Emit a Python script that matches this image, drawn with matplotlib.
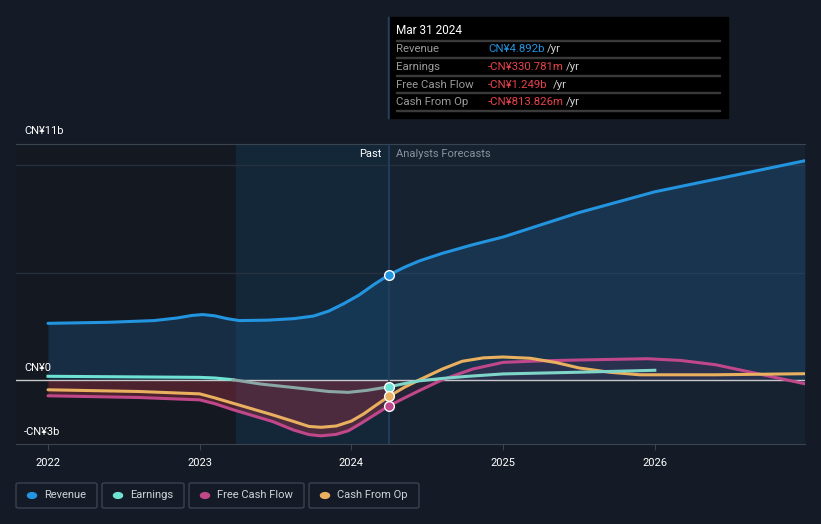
import matplotlib
matplotlib.use('Agg')
import matplotlib.pyplot as plt
from matplotlib.patches import Rectangle, FancyBboxPatch
import numpy as np

plt.rcParams['font.family'] = ['Roboto', 'DejaVu Sans']

# Values in CN¥ billions, x in decimal years
rev_x = [2022.0, 2022.4, 2022.7, 2022.85, 2022.95, 2023.02, 2023.1, 2023.18, 2023.26, 2023.45,
         2023.62, 2023.75, 2023.85, 2023.95, 2024.05, 2024.15, 2024.247, 2024.35, 2024.45,
         2024.6, 2024.8, 2025.0, 2025.5, 2026.0, 2026.5, 2026.99]
rev_y = [2.63, 2.68, 2.76, 2.88, 3.0, 3.04, 2.98, 2.85, 2.76, 2.78,
         2.85, 2.97, 3.2, 3.55, 3.95, 4.45, 4.89, 5.25, 5.55,
         5.9, 6.3, 6.66, 7.8, 8.77, 9.5, 10.22]

earn_x = [2022.0, 2023.0, 2023.1, 2023.22, 2023.4, 2023.65, 2023.85, 2023.98, 2024.1, 2024.247,
          2024.35, 2024.45, 2024.6, 2024.75, 2025.0, 2025.5, 2026.0]
earn_y = [0.16, 0.11, 0.08, 0.0, -0.2, -0.39, -0.55, -0.59, -0.5, -0.33,
          -0.18, -0.05, 0.06, 0.15, 0.27, 0.35, 0.44]

fcf_x = [2022.0, 2022.6, 2023.0, 2023.1, 2023.22, 2023.48, 2023.62, 2023.72, 2023.8, 2023.9,
         2023.98, 2024.06, 2024.15, 2024.247, 2024.35, 2024.45, 2024.6, 2024.8, 2025.0,
         2025.25, 2025.5, 2025.95, 2026.17, 2026.4, 2026.6, 2026.99]
fcf_y = [-0.75, -0.83, -0.94, -1.12, -1.4, -1.95, -2.35, -2.56, -2.62, -2.55,
         -2.38, -2.05, -1.65, -1.22, -0.85, -0.5, 0.0, 0.5, 0.81,
         0.88, 0.92, 0.98, 0.9, 0.7, 0.4, -0.19]

cfo_x = [2022.0, 2022.6, 2023.0, 2023.1, 2023.22, 2023.48, 2023.62, 2023.72, 2023.8, 2023.9,
         2024.0, 2024.08, 2024.16, 2024.247, 2024.35, 2024.45, 2024.6, 2024.73, 2024.87,
         2025.0, 2025.18, 2025.35, 2025.5, 2025.7, 2025.9, 2026.4, 2026.99]
cfo_y = [-0.47, -0.55, -0.66, -0.85, -1.1, -1.64, -1.95, -2.18, -2.22, -2.16,
         -1.93, -1.6, -1.2, -0.78, -0.35, 0.0, 0.5, 0.86, 1.02,
         1.06, 1.0, 0.8, 0.55, 0.35, 0.23, 0.23, 0.28]

now = 2024.247
band_start = 2023.24
years = [2022, 2023, 2024, 2025, 2026]

tip_title = 'Mar 31 2024'
tip_rows = [('Revenue', 'CN¥4.892b', '#2394df'),
            ('Earnings', '-CN¥330.781m', '#e8424b'),
            ('Free Cash Flow', '-CN¥1.249b', '#e8424b'),
            ('Cash From Op', '-CN¥813.826m', '#e8424b')]

legend_items = [('Revenue', '#2394df'), ('Earnings', '#6fe3d3'),
                ('Free Cash Flow', '#c0478a'), ('Cash From Op', '#e9b060')]

BG = '#151b26'
W, H = 821, 524

def fx(x):
    return x / W

def fy(y):
    return 1 - y / H

fig = plt.figure(figsize=(W / 100, H / 100), dpi=100, facecolor=BG)
ax = fig.add_axes([fx(16), fy(444), fx(805) - fx(16), fy(144) - fy(444)])
ax.set_facecolor('#172230')
ax.set_xlim(2021.789, 2026.99)
ax.set_ylim(-3, 11)

# background regions
ax.axvspan(2021.789, band_start, color='#131821', zorder=0)
ax.axvspan(band_start, now, color='#132739', zorder=0)

for g in [5, 10]:
    ax.axhline(g, color='#27313e', lw=1, zorder=1)

# revenue fill
ax.fill_between(rev_x, 0, rev_y, color='#1e5f94', alpha=0.3, lw=0, zorder=2)

# negative fill in the past
px = np.array(fcf_x)
mask = px <= now + 1e-9
ax.fill_between(px[mask], 0, np.array(fcf_y)[mask], color='#b8354a', alpha=0.35, lw=0, zorder=2)
# subtle fill in forecast
fmask = px >= now - 1e-9
ax.fill_between(px[fmask], 0, np.array(fcf_y)[fmask], color='#5a2a55', alpha=0.25, lw=0, zorder=2)

ax.axhline(0, color='#c8c8c8', lw=1, zorder=3)

ax.plot(rev_x, rev_y, color='#2394df', lw=2.2, zorder=5, solid_capstyle='round', solid_joinstyle='round')
ax.plot(fcf_x, fcf_y, color='#c0478a', lw=2.2, zorder=5, solid_capstyle='round', solid_joinstyle='round')
ax.plot(cfo_x, cfo_y, color='#e9b060', lw=2.2, zorder=5, solid_capstyle='round', solid_joinstyle='round')
ex = np.array(earn_x)
ey = np.array(earn_y)
ax.plot(ex[ex <= 2023.22], ey[ex <= 2023.22], color='#6fe3d3', lw=2.2, zorder=5)
ax.plot(ex[(ex >= 2023.22) & (ex <= now)], ey[(ex >= 2023.22) & (ex <= now)], color='#8aa7a6', lw=2.2, zorder=5)
ax.plot(ex[ex >= now], ey[ex >= now], color='#7fd6c8', lw=2.2, zorder=5)

# markers at now
for xs, ys, c in [(rev_x, rev_y, '#2394df'), (earn_x, earn_y, '#6fe3d3'),
                  (fcf_x, fcf_y, '#c0478a'), (cfo_x, cfo_y, '#e9b060')]:
    ax.plot([now], [ys[xs.index(now)]], 'o', ms=7, mfc=c, mec='white', mew=1, zorder=7)

ax.axvline(now, color='#24415e', lw=1.2, zorder=4)

for s in ['left', 'right']:
    ax.spines[s].set_visible(False)
ax.spines['top'].set_color('#3a4350')
ax.spines['bottom'].set_color('#3a4350')
ax.set_yticks([])
ax.set_xticks(years)
ax.set_xticklabels([str(y) for y in years], color='white', fontsize=8)
ax.tick_params(axis='x', colors='#3a4350', length=4, labelcolor='white', pad=6)

ax.text(now - 0.05, 10.55, 'Past', color='white', fontsize=8, ha='right', va='center', zorder=8)
ax.text(now + 0.05, 10.55, 'Analysts Forecasts', color='#8a929c', fontsize=8, ha='left', va='center', zorder=8)

# y labels
fig.text(fx(24), fy(131), 'CN¥11b', color='white', fontsize=8, va='center')
fig.text(fx(24), fy(368), 'CN¥0', color='white', fontsize=8, va='center')
fig.text(fx(24), fy(432), '-CN¥3b', color='white', fontsize=8, va='center')

# tooltip
line_x = fx(388.8)
fig.add_artist(Rectangle((line_x - 0.0008, fy(118)), 0.0016, fy(17) - fy(118),
                         transform=fig.transFigure, color='#24415e', zorder=9))
fig.add_artist(Rectangle((fx(390), fy(118)), fx(728) - fx(390), fy(17) - fy(118),
                         transform=fig.transFigure, color='#000000', zorder=10))
fig.text(fx(396), fy(31), tip_title, color='white', fontsize=8.5, va='center', zorder=11)
for i, (lab, val, c) in enumerate(tip_rows):
    yy = 49.5 + i * 17.5
    fig.add_artist(Rectangle((fx(396), fy(yy - 9)), fx(720) - fx(396), 0.0015,
                             transform=fig.transFigure, color='#3a3a3a', zorder=11))
    fig.text(fx(396), fy(yy), lab, color='#9a9a9a', fontsize=8.2, va='center', zorder=11)
    fig.text(fx(488), fy(yy), val, color=c, fontsize=8.2, va='center', zorder=11)
    tw = len(val) * 6.2
    fig.text(fx(488 + tw + 3), fy(yy), '/yr', color='#cfcfcf', fontsize=8.2, va='center', zorder=11)
fig.add_artist(Rectangle((fx(396), fy(111)), fx(720) - fx(396), 0.0015,
                         transform=fig.transFigure, color='#3a3a3a', zorder=11))

# legend
lx = 16
widths = [81, 82, 115, 110]
for (lab, c), w in zip(legend_items, widths):
    fig.add_artist(FancyBboxPatch((fx(lx), fy(508)), fx(w), fy(483) - fy(508),
                                  boxstyle='round,pad=0,rounding_size=0.003',
                                  transform=fig.transFigure, fc='none', ec='#3a4350', lw=1))
    fig.add_artist(plt.Circle((fx(lx + 16), fy(495.5)), 0.0055, transform=fig.transFigure,
                              color=c))
    fig.text(fx(lx + 28), fy(495.5), lab, color='#d0d4d9', fontsize=8, va='center')
    lx += w + 5

fig.savefig('out.png', dpi=100, facecolor=BG)
